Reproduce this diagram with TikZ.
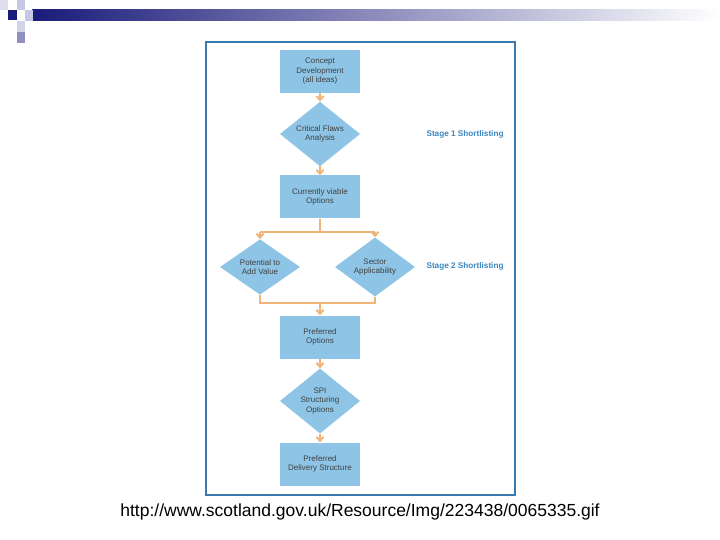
\documentclass[tikz,border=0pt]{standalone}
\usepackage{fontspec}
\setmainfont{Liberation Sans}
\usetikzlibrary{shapes.geometric,arrows.meta}
\definecolor{boxc}{HTML}{8EC5E6}
\definecolor{arr}{HTML}{F0B478}
\definecolor{frm}{HTML}{3A78B0}
\definecolor{stg}{HTML}{3A86C0}
\definecolor{navy}{HTML}{1A1A7A}
\definecolor{lsq}{HTML}{C8C8E4}
\definecolor{msq}{HTML}{9090C0}
\begin{document}
\begin{tikzpicture}[x=1pt,y=-1pt,
  rbox/.style={fill=boxc,minimum width=80pt,minimum height=43pt,align=center,font=\fontsize{8}{9.5}\selectfont,text=black!75},
  dbox/.style={fill=boxc,diamond,minimum width=80pt,minimum height=46pt,inner sep=0pt,align=center,font=\fontsize{8}{9.5}\selectfont,text=black!75},
  link/.style={draw=arr,line width=2pt,-{Straight Barb[length=4pt,width=7pt]}},
  seg/.style={draw=arr,line width=2pt},
  stage/.style={text=stg,font=\bfseries\fontsize{8.2}{9.5}\selectfont,anchor=west}]
\useasboundingbox (0,0) rectangle (720,540);
\fill[white] (0,0) rectangle (720,540);
% header
\shade[left color=navy,right color=white] (32,10) rectangle (720,21);
\fill[lsq!60] (0,0) rectangle (8,10);
\fill[navy] (8,10) rectangle (17,20);
\fill[lsq] (17,0) rectangle (25,10);
\fill[lsq] (25,10) rectangle (33,21);
\fill[lsq!80] (17,21) rectangle (25,32);
\fill[msq] (17,32) rectangle (25,43);
% frame
\draw[frm,line width=1.2pt] (206,42) rectangle (515,495);
\node[rbox] (c) at (320,71.5) {Concept\\Development\\(all ideas)};
\node[dbox] (cf) at (320,134) {Critical Flaws\\Analysis};
\node[rbox] (cv) at (320,197) {Currently viable\\Options};
\node[dbox] (pv) at (260,267) {Potential to\\Add Value};
\node[dbox] (sa) at (375,267) {Sector\\Applicability};
\node[rbox] (po) at (320,337) {Preferred\\Options};
\node[dbox] (spi) at (320,401) {SPI\\Structuring\\Options};
\node[rbox] (pd) at (320,464) {Preferred\\Delivery Structure};
\coordinate (br) at (320,232);
\coordinate (bl) at (260,232);
\coordinate (brr) at (375,232);
\coordinate (jl) at (260,303);
\coordinate (jr) at (375,303);
\coordinate (jm) at (320,303);
\draw[link] (c) -- (cf);
\draw[link] (cf) -- (cv);
\draw[seg] (cv) -- (br);
\draw[seg] (bl) -- (brr);
\draw[link] (bl) -- (pv);
\draw[link] (brr) -- (sa);
\draw[seg] (pv) -- (jl) -- (jr) -- (sa);
\draw[link] (jm) -- (po);
\draw[link] (po) -- (spi);
\draw[link] (spi) -- (pd);
\node[stage] (s1) at (423,134) {Stage 1 Shortlisting};
\node[stage] (s2) at (423,266) {Stage 2 Shortlisting};
\node[font=\fontsize{17.5}{20}\selectfont] (url) at (360,512) {http://www.scotland.gov.uk/Resource/Img/223438/0065335.gif};
\end{tikzpicture}
\end{document}
